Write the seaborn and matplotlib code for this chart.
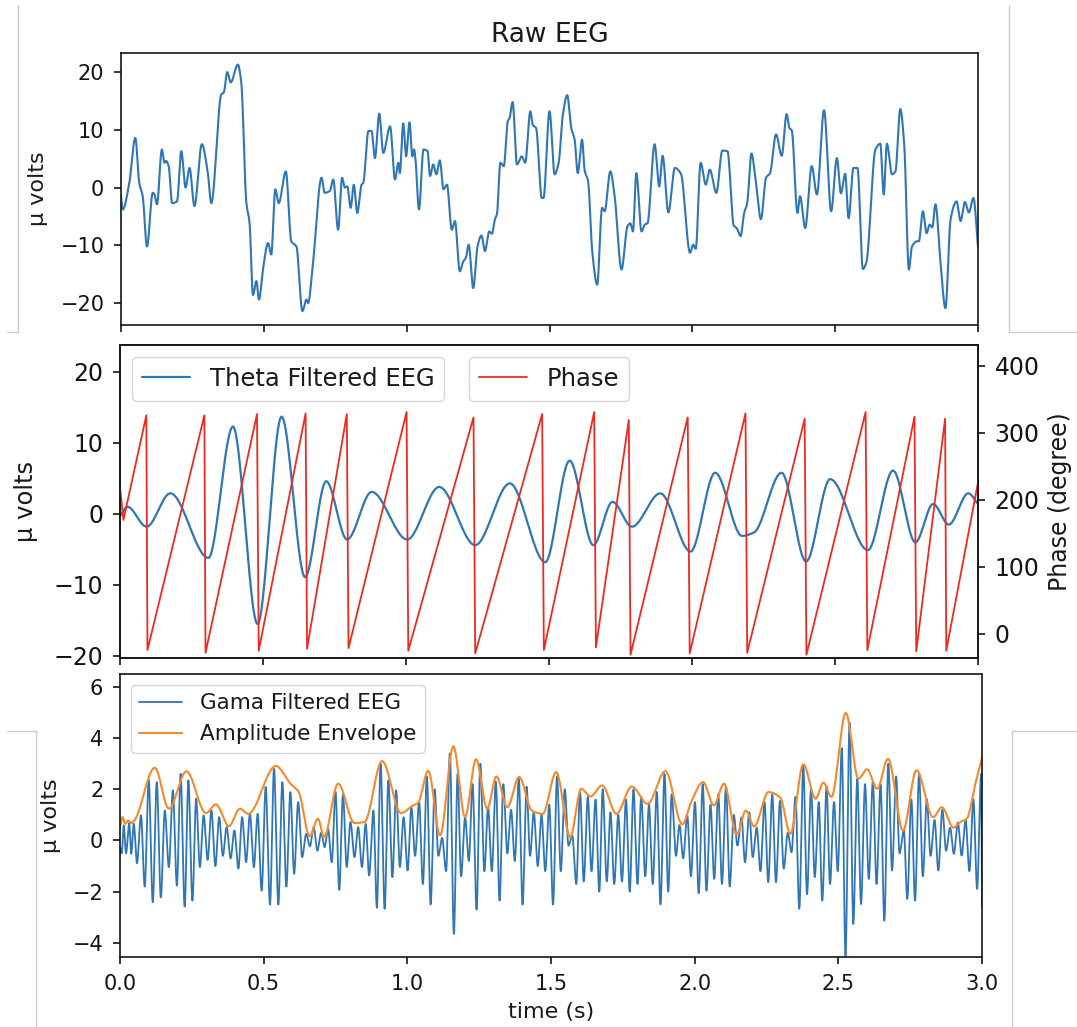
import numpy as np
import matplotlib
matplotlib.use("Agg")
import matplotlib.pyplot as plt
from matplotlib.lines import Line2D
import seaborn as sns

# ---------------- data ----------------
# Raw EEG trace: turning points (time in s, amplitude in microvolts)
raw_t = [0.000, 0.006, 0.029, 0.050, 0.064, 0.076, 0.091, 0.111, 0.117, 0.126,
         0.143, 0.152, 0.158, 0.167, 0.179, 0.196, 0.211, 0.226, 0.240, 0.257,
         0.283, 0.304, 0.316, 0.351, 0.360, 0.372, 0.384, 0.409, 0.421, 0.439,
         0.450, 0.462, 0.474, 0.483, 0.497, 0.515, 0.526, 0.540, 0.552, 0.577,
         0.596, 0.614, 0.635, 0.649, 0.655, 0.672, 0.702, 0.713, 0.731, 0.743,
         0.760, 0.774, 0.783, 0.792, 0.804, 0.815, 0.827, 0.842, 0.848, 0.866,
         0.877, 0.889, 0.904, 0.918, 0.942, 0.959, 0.971, 0.976, 0.988, 0.998,
         1.010, 1.020, 1.026, 1.031, 1.043, 1.059, 1.073, 1.082, 1.093, 1.104,
         1.116, 1.129, 1.141, 1.158, 1.169, 1.186, 1.198, 1.207, 1.217, 1.233,
         1.248, 1.262, 1.274, 1.289, 1.298, 1.309, 1.316, 1.328, 1.340, 1.354,
         1.360, 1.371, 1.386, 1.403, 1.415, 1.433, 1.441, 1.453, 1.473, 1.479,
         1.500, 1.518, 1.532, 1.547, 1.562, 1.576, 1.588, 1.599, 1.614, 1.623,
         1.635, 1.650, 1.667, 1.684, 1.693, 1.713, 1.728, 1.752, 1.773, 1.783,
         1.792, 1.804, 1.822, 1.834, 1.843, 1.868, 1.884, 1.896, 1.916, 1.939,
         1.960, 1.992, 2.003, 2.012, 2.029, 2.047, 2.061, 2.084, 2.105, 2.123,
         2.145, 2.155, 2.169, 2.181, 2.192, 2.207, 2.222, 2.240, 2.258, 2.272,
         2.293, 2.313, 2.330, 2.340, 2.348, 2.368, 2.377, 2.395, 2.418, 2.436,
         2.461, 2.486, 2.506, 2.520, 2.535, 2.547, 2.564, 2.578, 2.597, 2.609,
         2.641, 2.658, 2.670, 2.681, 2.699, 2.711, 2.728, 2.742, 2.758, 2.769,
         2.787, 2.793, 2.807, 2.820, 2.831, 2.840, 2.851, 2.869, 2.886, 2.904,
         2.925, 2.939, 2.954, 2.968, 2.984, 3.000]
raw_uv = [-1.5, -3.8, 0.8, 8.6, 0.8, -1.5, -10.2, -0.9, -1.2, -2.9,
          6.6, 4.3, 4.6, 3.7, -2.7, -2.4, 6.3, 0.0, 3.4, -3.2,
          7.5, 2.5, -2.7, 16.1, 16.5, 20.0, 18.2, 21.3, 18.2, -2.7,
          -6.1, -18.6, -16.2, -19.4, -14.2, -9.6, -11.6, -0.3, -2.7, 2.8,
          -9.3, -10.2, -21.4, -19.4, -20.0, -13.1, 1.7, -0.9, -0.6, 1.4,
          -7.3, 1.7, 0.0, 0.2, -3.5, 0.5, -4.4, 0.5, 0.8, 9.8,
          9.8, 5.1, 12.8, 6.0, 10.6, 1.4, 4.3, 2.5, 11.1, 5.4,
          11.3, 5.4, 6.6, 4.8, -3.8, 6.6, 6.3, 2.0, 4.0, 2.3,
          4.7, -0.3, 0.5, -7.3, -5.8, -14.5, -12.8, -12.2, -9.9, -17.4,
          -10.2, -8.3, -11.0, -7.6, -8.0, -5.5, -4.6, 4.3, 3.7, 11.5,
          12.0, 14.8, 4.0, 5.4, 4.3, 13.2, 10.9, 10.3, -1.8, -1.8,
          13.2, 2.3, 4.3, 12.7, 16.0, 10.3, 8.3, 2.5, 8.3, 3.0,
          1.1, -11.3, -16.8, -3.5, -4.1, 2.8, -1.5, -14.2, -6.7, -6.2,
          -7.6, 2.5, -7.6, -6.4, -6.2, 7.5, 0.2, 5.5, -4.3, 3.4,
          2.4, -11.3, -9.9, -10.6, 4.3, 0.5, 3.1, -0.9, 6.4, 6.3,
          -6.6, -7.0, -8.4, -4.5, -2.7, 5.9, 1.1, -5.5, 1.7, 2.5,
          9.2, 5.5, 12.7, 10.3, 9.9, -4.4, -1.5, -7.0, 3.7, -1.2,
          13.4, -4.1, 5.1, -1.0, 2.4, -5.3, 3.4, 3.4, -14.1, -13.0,
          6.6, 7.6, -1.2, 7.6, 2.3, 2.8, 13.6, 7.2, -14.2, -10.2,
          -9.3, -9.3, -4.1, -7.9, -6.4, -6.9, -2.9, -13.1, -20.9, -5.5,
          -2.4, -5.8, -2.5, -4.3, -1.8, -10.2]

# Theta-band filtered EEG: extrema (s, microvolts)
theta_t = [0.000, 0.026, 0.093, 0.176, 0.309, 0.395, 0.481, 0.565, 0.647, 0.721,
           0.794, 0.880, 1.004, 1.116, 1.242, 1.363, 1.487, 1.572, 1.655, 1.722,
           1.790, 1.889, 1.995, 2.081, 2.175, 2.217, 2.313, 2.399, 2.483, 2.615,
           2.703, 2.781, 2.843, 2.898, 2.966, 3.000]
theta_uv = [-0.3, 1.0, -1.8, 2.9, -6.2, 12.3, -15.5, 13.7, -8.9, 4.6,
            -3.6, 3.1, -3.6, 3.8, -4.4, 4.3, -6.8, 7.5, -4.4, 1.7,
            -1.8, 2.9, -5.3, 5.8, -3.1, -2.6, 5.8, -6.7, 4.9, -5.1,
            6.1, -4.0, 1.4, -1.5, 2.9, 1.4]

# Theta phase sawtooth: vertices (s, degrees)
phase_t = [0.000, 0.012, 0.092, 0.096, 0.295, 0.299, 0.479, 0.485, 0.649, 0.654,
           0.793, 0.799, 1.002, 1.008, 1.236, 1.242, 1.476, 1.482, 1.658, 1.664,
           1.779, 1.785, 1.985, 1.992, 2.187, 2.193, 2.394, 2.400, 2.607, 2.613,
           2.778, 2.784, 2.885, 2.889, 3.000]
phase_deg = [219, 170, 326, -24, 326, -28, 328, -25, 329, -22,
             328, -21, 331, -25, 323, -29, 328, -24, 331, -20,
             319, -31, 323, -29, 329, -28, 321, -31, 331, -24,
             324, -26, 321, -25, 226]

# Gamma-band filtered EEG: oscillation peaks and troughs (s, microvolts)
gamma_peak_t = [0.013, 0.032, 0.048, 0.073, 0.100, 0.128, 0.156, 0.184, 0.211, 0.238,
                0.265, 0.291, 0.318, 0.345, 0.371, 0.398, 0.425, 0.452, 0.479, 0.507,
                0.536, 0.565, 0.593, 0.620, 0.648, 0.674, 0.700, 0.724, 0.750, 0.776,
                0.802, 0.829, 0.855, 0.882, 0.907, 0.934, 0.961, 0.987,
                1.014, 1.041, 1.068, 1.095, 1.121, 1.148, 1.175, 1.201, 1.227, 1.254,
                1.281, 1.308, 1.334, 1.361, 1.388, 1.415, 1.440, 1.467, 1.494, 1.521,
                1.548, 1.574, 1.601, 1.628, 1.655, 1.680, 1.707, 1.734, 1.761, 1.787,
                1.814, 1.841, 1.868, 1.895, 1.920, 1.947, 1.974,
                2.001, 2.028, 2.055, 2.082, 2.109, 2.136, 2.163, 2.190, 2.216, 2.243,
                2.270, 2.297, 2.324, 2.351, 2.378, 2.405, 2.432, 2.459, 2.485, 2.512,
                2.539, 2.566, 2.593, 2.620, 2.647, 2.674, 2.701, 2.728, 2.754, 2.781,
                2.808, 2.835, 2.862, 2.889, 2.916, 2.943, 2.970, 2.997]
gamma_peak_uv = [0.59, 0.68, 0.65, 0.98, 2.35, 2.28, 1.17, 1.96, 2.60, 2.35,
                 1.63, 0.98, 1.17, 0.91, 0.52, 0.39, 0.91, 1.04, 1.04, 2.09,
                 2.80, 2.28, 1.89, 1.50, 0.26, 0.52, 0.30, 0.45, 1.90, 1.80,
                 0.72, 0.52, 0.65, 1.17, 3.00, 2.35, 1.96, 0.91,
                 1.3, 1.5, 2.5, 2.0, 0.1, 3.4, 2.6, 0.9, 2.2, 3.0,
                 1.3, 2.3, 2.2, 1.2, 2.4, 2.1, 1.1, 1.0, 1.4, 2.5,
                 2.0, 0.2, 1.9, 1.7, 1.6, 2.0, 1.1, 1.0, 1.6, 2.0,
                 1.7, 1.4, 1.9, 2.6, 1.8, 0.6, 1.0,
                 1.5, 2.2, 1.4, 1.8, 2.1, 1.0, 0.9, 1.1, 0.5, 1.5,
                 1.8, 1.55, 0.3, 1.7, 2.9, 2.0, 1.5, 2.1, 1.5, 3.6,
                 4.6, 2.4, 2.2, 2.3, 2.2, 3.0, 2.5, 0.4, 1.6, 2.6,
                 1.6, 0.8, 1.2, 0.5, 0.7, 0.8, 1.6, 2.6]
gamma_trough_t = [0.000, 0.006, 0.021, 0.039, 0.059, 0.086, 0.114, 0.142, 0.170, 0.198,
                  0.225, 0.252, 0.278, 0.305, 0.332, 0.358, 0.385, 0.412, 0.439, 0.466,
                  0.493, 0.522, 0.551, 0.579, 0.606, 0.634, 0.661, 0.687, 0.712, 0.737,
                  0.763, 0.789, 0.816, 0.842, 0.867, 0.894, 0.921, 0.948, 0.974, 1.001,
                  1.027, 1.054, 1.081, 1.108, 1.135, 1.162, 1.187, 1.214, 1.241, 1.268,
                  1.294, 1.321, 1.348, 1.374, 1.401, 1.427, 1.454, 1.480, 1.507, 1.534,
                  1.561, 1.588, 1.614, 1.641, 1.668, 1.694, 1.720, 1.747, 1.774, 1.801,
                  1.828, 1.854, 1.881, 1.908, 1.935, 1.960, 1.987,
                  2.014, 2.041, 2.068, 2.095, 2.122, 2.149, 2.175, 2.202, 2.229, 2.256,
                  2.283, 2.310, 2.337, 2.364, 2.391, 2.418, 2.444, 2.471, 2.498, 2.525,
                  2.552, 2.579, 2.606, 2.633, 2.660, 2.687, 2.713, 2.740, 2.767, 2.794,
                  2.821, 2.848, 2.875, 2.902, 2.929, 2.956, 2.983, 3.000]
gamma_trough_uv = [-0.26, -0.50, -0.50, -0.52, -0.89, -1.80, -2.41, -2.22, -1.04, -1.76,
                   -2.58, -2.35, -1.04, -0.76, -1.00, -0.60, -0.70, -1.10, -0.85, -1.04,
                   -1.96, -2.50, -2.50, -1.80, -1.30, -0.65, -0.23, -0.40, -0.26, -0.85,
                   -1.93, -1.04, -0.65, -1.04, -1.37, -2.63, -2.67, -1.43, -1.04, -1.17,
                   -0.6, -1.7, -2.5, -0.6, -1.2, -3.65, -1.4, -0.8, -2.7, -1.2,
                   -1.2, -2.35, -0.5, -0.8, -2.5, -0.6, -1.0, -1.2, -2.5, -1.2,
                   -0.2, -1.7, -1.6, -1.2, -2.0, -1.6, -1.7, -1.6, -2.0, -1.7,
                   -1.4, -1.7, -2.5, -2.0, -0.6, -0.7, -1.4,
                   -2.06, -1.96, -1.5, -1.7, -1.8, -0.2, -0.85, -0.65, -1.2, -1.63,
                   -1.63, -1.1, -0.46, -2.67, -2.1, -1.43, -2.35, -1.7, -1.2, -4.5,
                   -3.26, -2.48, -1.5, -1.7, -3.13, -1.17, -0.5, -2.28, -2.35, -1.4,
                   -0.6, -1.17, -0.4, -0.52, -0.59, -1.2, -1.89, -2.54]

# Gamma amplitude envelope: turning points (s, microvolts)
env_t = [0.000, 0.009, 0.018, 0.029, 0.039, 0.050, 0.121, 0.170, 0.231, 0.299,
         0.334, 0.379, 0.417, 0.446, 0.542, 0.593, 0.622, 0.660, 0.689, 0.710,
         0.759, 0.816, 0.851, 0.912, 0.978, 1.020, 1.037, 1.073, 1.114, 1.160,
         1.201, 1.239, 1.278, 1.310, 1.348, 1.389, 1.433, 1.471, 1.518, 1.567,
         1.605, 1.637, 1.678, 1.728, 1.781, 1.836, 1.898, 1.957, 1.988, 2.029,
         2.067, 2.102, 2.146, 2.178, 2.207, 2.257, 2.298, 2.333, 2.378, 2.421,
         2.448, 2.476, 2.526, 2.570, 2.600, 2.635, 2.673, 2.725, 2.772, 2.830,
         2.860, 2.901, 2.924, 2.947, 2.977, 3.000]
env_uv = [0.52, 0.91, 0.65, 0.78, 0.68, 0.78, 2.84, 1.24, 2.70, 1.07,
          1.41, 0.56, 1.24, 1.04, 2.91, 2.22, 1.89, 0.17, 0.85, 0.13,
          2.22, 0.68, 0.72, 3.10, 1.07, 1.37, 1.46, 2.72, 0.20, 3.68,
          0.91, 3.17, 1.24, 2.50, 1.30, 2.48, 1.17, 1.04, 2.67, 0.13,
          2.02, 1.72, 2.15, 1.04, 2.11, 1.43, 2.71, 0.63, 1.50, 2.28,
          1.37, 2.22, 0.23, 1.17, 0.55, 1.89, 1.67, 0.26, 2.97, 1.63,
          2.26, 1.70, 4.98, 2.41, 2.78, 2.02, 3.19, 0.39, 2.74, 0.91,
          1.30, 0.50, 0.72, 0.85, 2.22, 3.23]

time_ticks = [0.0, 0.5, 1.0, 1.5, 2.0, 2.5, 3.0]
uv_ticks = [-20, -10, 0, 10, 20]
phase_ticks = [0, 100, 200, 300, 400]
gamma_ticks = [-4, -2, 0, 2, 4, 6]


def smooth_curve(x, y, n):
    """Monotone cubic (PCHIP) curve through the given turning points."""
    x = np.asarray(x, float)
    y = np.asarray(y, float)
    h = np.diff(x)
    d = np.diff(y) / h
    m = np.zeros_like(y)
    m[0], m[-1] = d[0], d[-1]
    for k in range(1, len(x) - 1):
        if d[k - 1] * d[k] > 0:
            w1 = 2 * h[k] + h[k - 1]
            w2 = h[k] + 2 * h[k - 1]
            m[k] = (w1 + w2) / (w1 / d[k - 1] + w2 / d[k])
    xs = np.linspace(x[0], x[-1], n)
    i = np.clip(np.searchsorted(x, xs, side="right") - 1, 0, len(x) - 2)
    hk = h[i]
    s = (xs - x[i]) / hk
    ys = ((2 * s**3 - 3 * s**2 + 1) * y[i] + (s**3 - 2 * s**2 + s) * hk * m[i]
          + (-2 * s**3 + 3 * s**2) * y[i + 1] + (s**3 - s**2) * hk * m[i + 1])
    return xs, ys


# ---------------- style ----------------
sns.set_theme(style="ticks", rc={
    "axes.edgecolor": "#141414",
    "axes.linewidth": 1.2,
    "xtick.color": "#141414",
    "ytick.color": "#141414",
    "text.color": "#1a1a1a",
    "axes.labelcolor": "#1a1a1a",
})
plt.rcParams["font.family"] = ["DejaVu Sans"]

BLUE = "#2f76b6"
RED = "#ee2a1f"
ORANGE = "#f7892b"

W, H = 1077, 1027
fig = plt.figure(figsize=(W / 100, H / 100), dpi=100)
ax_raw = fig.add_axes([121 / W, 1 - 325 / H, (978 - 121) / W, (325 - 53) / H])
ax_th = fig.add_axes([120 / W, 1 - 658 / H, (978 - 120) / W, (658 - 345) / H])
ax_g = fig.add_axes([120 / W, 1 - 957 / H, (982 - 120) / W, (957 - 674) / H])


def style_ticks(ax, size):
    ax.tick_params(direction="out", length=5, width=1.2, pad=7, labelsize=size)


# ---------------- raw EEG ----------------
xs, ys = smooth_curve(raw_t, raw_uv, 4000)
sns.lineplot(x=xs, y=ys, ax=ax_raw, color=BLUE, linewidth=1.5,
             estimator=None, sort=False, legend=False)
ax_raw.set_xlim(0, 3)
ax_raw.set_ylim(-23.8, 23.3)
ax_raw.set_xticks(time_ticks)
ax_raw.set_yticks(uv_ticks)
ax_raw.tick_params(labelbottom=False)
style_ticks(ax_raw, 15)
ax_raw.set_title("Raw EEG", fontsize=19, pad=8)
ax_raw.set_ylabel("µ volts", fontsize=16)
ax_raw.yaxis.set_label_coords(-0.085, 0.5)
ax_raw.set_xlabel("")

# ---------------- theta + phase ----------------
xs, ys = smooth_curve(theta_t, theta_uv, 4000)
sns.lineplot(x=xs, y=ys, ax=ax_th, color=BLUE, linewidth=1.6,
             estimator=None, sort=False, legend=False)
ax_th.set_xlim(0, 3)
ax_th.set_ylim(-20.3, 23.8)
ax_th.set_xticks(time_ticks)
ax_th.set_yticks(uv_ticks)
ax_th.tick_params(labelbottom=False)
style_ticks(ax_th, 17)
ax_th.set_ylabel("µ volts", fontsize=17.5)
ax_th.yaxis.set_label_coords(-0.096, 0.5)
ax_th.set_xlabel("")

ax_ph = ax_th.twinx()
sns.lineplot(x=phase_t, y=phase_deg, ax=ax_ph, color=RED, linewidth=1.3,
             estimator=None, sort=False, legend=False)
ax_ph.set_xlim(0, 3)
ax_ph.set_ylim(-35.8, 431)
ax_ph.set_yticks(phase_ticks)
style_ticks(ax_ph, 17)
ax_ph.set_ylabel("Phase (degree)", fontsize=17)
ax_ph.yaxis.set_label_coords(1.082, 0.5)

ax_th.legend([ax_th.get_lines()[0]], ["Theta Filtered EEG"], loc="upper left",
             fontsize=17.5)
ax_ph.legend([ax_ph.get_lines()[0]], ["Phase"], loc="upper center", fontsize=17.5)

# ---------------- gamma + envelope ----------------
g_t = np.array(gamma_peak_t + gamma_trough_t)
g_v = np.array(gamma_peak_uv + gamma_trough_uv)
order = np.argsort(g_t)
xs, ys = smooth_curve(g_t[order], g_v[order], 9000)
sns.lineplot(x=xs, y=ys, ax=ax_g, color=BLUE, linewidth=1.3,
             estimator=None, sort=False, legend=False)
xs, ys = smooth_curve(env_t, env_uv, 4000)
sns.lineplot(x=xs, y=ys, ax=ax_g, color=ORANGE, linewidth=1.5,
             estimator=None, sort=False, legend=False)
ax_g.set_xlim(0, 3)
ax_g.set_ylim(-4.55, 6.5)
ax_g.set_xticks(time_ticks)
ax_g.set_xticklabels([f"{v:.1f}" for v in time_ticks])
ax_g.set_yticks(gamma_ticks)
style_ticks(ax_g, 15)
ax_g.set_ylabel("µ volts", fontsize=16)
ax_g.yaxis.set_label_coords(-0.068, 0.5)
ax_g.set_xlabel("time (s)", fontsize=16)
ax_g.xaxis.set_label_coords(0.5, -0.16)
lines = ax_g.get_lines()
ax_g.legend([lines[0], lines[1]], ["Gama Filtered EEG", "Amplitude Envelope"],
            loc="upper left", fontsize=15.5)

# thin frame fragments around the panels
frame = [((18, 5), (18, 332)), ((7, 332), (18, 332)),
         ((1009, 5), (1009, 332)), ((1009, 332), (1077, 332)),
         ((7, 731), (36, 731)), ((36, 731), (36, 1027)),
         ((1012, 731), (1012, 1027)), ((1012, 731), (1077, 731))]
for (x0, y0), (x1, y1) in frame:
    fig.add_artist(Line2D([x0 / W, x1 / W], [1 - y0 / H, 1 - y1 / H],
                          transform=fig.transFigure, color="#cccccc", lw=1.0))

fig.savefig("out.png", dpi=100, facecolor="white")
